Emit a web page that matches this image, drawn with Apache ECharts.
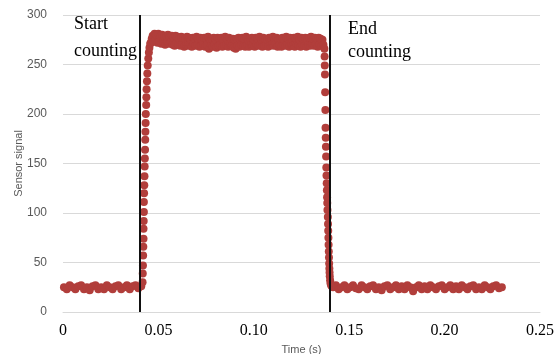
<!DOCTYPE html>
<html>
<head>
<meta charset="utf-8">
<script src="https://cdn.jsdelivr.net/npm/echarts@6/dist/echarts.min.js"></script>
<style>
  html, body { margin: 0; padding: 0; background: #fff; }
  #chart { width: 556px; height: 354px; }
</style>
</head>
<body>
<div id="chart"></div>
<script>
// [time (s), sensor signal]
const baseStart = [
  [0.0005, 25], [0.0020, 23], [0.0035, 27], [0.0050, 25], [0.0065, 23], [0.0080, 26],
  [0.0095, 27], [0.0110, 23], [0.0125, 25], [0.0140, 22], [0.0155, 26], [0.0170, 27],
  [0.0185, 23], [0.0200, 25], [0.0215, 23], [0.0230, 27], [0.0245, 25], [0.0260, 23],
  [0.0275, 26], [0.0290, 27], [0.0305, 23], [0.0320, 25], [0.0335, 27], [0.0350, 23],
  [0.0365, 26], [0.0380, 27], [0.0395, 24], [0.0410, 26]
]
const riseEdge = [
  [0.0417, 30], [0.0418, 39], [0.0419, 47], [0.0420, 57], [0.0421, 66], [0.0422, 74],
  [0.0422, 84], [0.0423, 92], [0.0424, 101], [0.0424, 111], [0.0425, 120], [0.0426, 128],
  [0.0427, 137], [0.0428, 147], [0.0429, 155], [0.0430, 164], [0.0431, 174], [0.0432, 182],
  [0.0433, 191], [0.0434, 200], [0.0436, 209], [0.0437, 217], [0.0438, 225], [0.0440, 233],
  [0.0442, 241], [0.0444, 249], [0.0447, 256], [0.0450, 262], [0.0453, 267], [0.0457, 271]
]
const plateau = [
  [0.0460, 272], [0.0465, 276], [0.0470, 279], [0.0475, 273], [0.0480, 281], [0.0485, 275], [0.0490, 280], [0.0495, 272],
  [0.0500, 281], [0.0505, 274], [0.0510, 279], [0.0515, 271], [0.0520, 280], [0.0525, 273], [0.0530, 278], [0.0535, 270],
  [0.0540, 279], [0.0545, 272], [0.0550, 280], [0.0555, 271], [0.0560, 278], [0.0565, 273], [0.0570, 279], [0.0575, 270],
  [0.0580, 277], [0.0585, 269], [0.0590, 279], [0.0595, 272], [0.0600, 278], [0.0605, 270], [0.0610, 276], [0.0615, 269],
  [0.0620, 278], [0.0625, 271], [0.0630, 277], [0.0635, 268], [0.0640, 276], [0.0645, 270], [0.0650, 278], [0.0655, 269],
  [0.0660, 277], [0.0665, 270], [0.0670, 275], [0.0675, 268], [0.0680, 277], [0.0685, 271], [0.0690, 276], [0.0695, 269],
  [0.0700, 278], [0.0705, 270], [0.0710, 276], [0.0715, 268], [0.0720, 277], [0.0725, 269], [0.0730, 275], [0.0735, 271],
  [0.0740, 277], [0.0745, 268], [0.0750, 276], [0.0755, 270], [0.0760, 278], [0.0765, 266], [0.0770, 275], [0.0775, 269],
  [0.0780, 276], [0.0785, 268], [0.0790, 277], [0.0795, 270], [0.0800, 275], [0.0805, 267], [0.0810, 277], [0.0815, 269],
  [0.0820, 276], [0.0825, 270], [0.0830, 277], [0.0835, 268], [0.0840, 275], [0.0845, 269], [0.0850, 278], [0.0855, 270],
  [0.0860, 276], [0.0865, 268], [0.0870, 277], [0.0875, 270], [0.0880, 275], [0.0885, 269], [0.0890, 276], [0.0895, 267],
  [0.0900, 275], [0.0905, 266], [0.0910, 276], [0.0915, 269], [0.0920, 277], [0.0925, 268], [0.0930, 275], [0.0935, 270],
  [0.0940, 277], [0.0945, 269], [0.0950, 276], [0.0955, 268], [0.0960, 278], [0.0965, 270], [0.0970, 275], [0.0975, 268],
  [0.0980, 276], [0.0985, 270], [0.0990, 277], [0.0995, 269], [0.1000, 275], [0.1005, 268], [0.1010, 277], [0.1015, 270],
  [0.1020, 276], [0.1025, 269], [0.1030, 278], [0.1035, 270], [0.1040, 275], [0.1045, 268], [0.1050, 277], [0.1055, 269],
  [0.1060, 276], [0.1065, 270], [0.1070, 275], [0.1075, 268], [0.1080, 277], [0.1085, 269], [0.1090, 276], [0.1095, 270],
  [0.1100, 278], [0.1105, 269], [0.1110, 276], [0.1115, 271], [0.1120, 277], [0.1125, 268], [0.1130, 275], [0.1135, 270],
  [0.1140, 276], [0.1145, 268], [0.1150, 277], [0.1155, 270], [0.1160, 275], [0.1165, 269], [0.1170, 278], [0.1175, 270],
  [0.1180, 276], [0.1185, 268], [0.1190, 277], [0.1195, 270], [0.1200, 275], [0.1205, 269], [0.1210, 277], [0.1215, 268],
  [0.1220, 276], [0.1225, 270], [0.1230, 278], [0.1235, 269], [0.1240, 275], [0.1245, 268], [0.1250, 277], [0.1255, 270],
  [0.1260, 276], [0.1265, 269], [0.1270, 277], [0.1275, 268], [0.1280, 275], [0.1285, 270], [0.1290, 277], [0.1295, 269],
  [0.1300, 278], [0.1305, 270], [0.1310, 276], [0.1315, 269], [0.1320, 277], [0.1325, 271], [0.1330, 276], [0.1335, 268],
  [0.1340, 277], [0.1345, 270], [0.1350, 276], [0.1355, 269], [0.1360, 275], [0.1365, 270], [0.1370, 266]
]
const fallEdge = [
  [0.1371, 258], [0.1372, 249], [0.1373, 240], [0.1374, 222], [0.1375, 204], [0.1376, 186],
  [0.1377, 176], [0.1378, 167], [0.1379, 157], [0.1380, 146], [0.1381, 138], [0.1382, 130],
  [0.1383, 123], [0.1384, 116], [0.1385, 110], [0.1386, 103], [0.1388, 96], [0.1389, 89],
  [0.1390, 82], [0.1391, 75], [0.1392, 68], [0.1393, 61], [0.1394, 55], [0.1395, 49],
  [0.1396, 44], [0.1397, 40], [0.1398, 36], [0.1400, 32], [0.1402, 29], [0.1405, 27],
  [0.1409, 26]
]
const baseEnd = [
  [0.1415, 25], [0.1430, 27], [0.1445, 23], [0.1460, 25], [0.1475, 27], [0.1490, 23],
  [0.1505, 25], [0.1520, 27], [0.1535, 24], [0.1550, 23], [0.1565, 27], [0.1580, 25],
  [0.1595, 23], [0.1610, 26], [0.1625, 27], [0.1640, 23], [0.1655, 25], [0.1670, 22],
  [0.1685, 26], [0.1700, 27], [0.1715, 23], [0.1730, 25], [0.1745, 27], [0.1760, 23],
  [0.1775, 26], [0.1790, 23], [0.1805, 27], [0.1820, 25], [0.1835, 21], [0.1850, 25],
  [0.1865, 27], [0.1880, 23], [0.1895, 26], [0.1910, 23], [0.1925, 27], [0.1940, 25],
  [0.1955, 23], [0.1970, 26], [0.1985, 27], [0.2000, 23], [0.2015, 25], [0.2030, 27],
  [0.2045, 23], [0.2060, 26], [0.2075, 23], [0.2090, 27], [0.2105, 25], [0.2120, 23],
  [0.2135, 26], [0.2150, 27], [0.2165, 23], [0.2180, 25], [0.2195, 23], [0.2210, 27],
  [0.2225, 25], [0.2240, 23], [0.2255, 26], [0.2270, 27], [0.2285, 24], [0.2300, 25]
]
const counterLines = [0.0404, 0.1407]
const xTicks = { min: 0, max: 0.25, interval: 0.05 }
const yTicks = { min: 0, max: 300, interval: 50 }

const points = baseStart.concat(riseEdge, plateau, fallEdge, baseEnd)

const chart = echarts.init(document.getElementById('chart'), null, { renderer: 'canvas' })

const grayText = {
  color: '#595959',
  fontFamily: 'Liberation Sans',
  fontSize: 12
}

// annotation text, one element per line
function note(text, left, top) {
  return {
    type: 'text',
    left: left,
    top: top,
    style: { text: text, font: '18px "Liberation Serif"', fill: '#000' }
  }
}

chart.setOption({
  animation: false,
  backgroundColor: '#fff',
  grid: {
    left: 63,
    right: 16,
    top: 15,
    bottom: 42,
    containLabel: false,
    outerBoundsMode: 'none'
  },
  xAxis: {
    type: 'value',
    min: xTicks.min,
    max: xTicks.max,
    interval: xTicks.interval,
    name: 'Time (s)',
    nameLocation: 'middle',
    nameGap: 32,
    nameMoveOverlap: false,
    nameTextStyle: { color: '#595959', fontFamily: 'Liberation Sans', fontSize: 11 },
    axisLine: { show: true, lineStyle: { color: '#d9d9d9', width: 1 } },
    axisTick: { show: false },
    splitLine: { show: false },
    axisLabel: {
      color: '#000',
      fontFamily: 'Liberation Serif',
      fontSize: 16,
      margin: 11,
      formatter: v => (v === 0 ? '0' : v.toFixed(2))
    }
  },
  yAxis: {
    type: 'value',
    min: yTicks.min,
    max: yTicks.max,
    interval: yTicks.interval,
    name: 'Sensor signal',
    nameLocation: 'middle',
    nameGap: 39,
    nameMoveOverlap: false,
    nameTextStyle: { color: '#595959', fontFamily: 'Liberation Sans', fontSize: 11 },
    axisLine: { show: false },
    axisTick: { show: false },
    splitLine: { lineStyle: { color: '#d9d9d9', width: 1 } },
    axisLabel: Object.assign({ margin: 16 }, grayText)
  },
  series: [
    {
      type: 'scatter',
      data: points,
      symbol: 'circle',
      symbolSize: 8,
      itemStyle: { color: '#b13e3b', opacity: 1 },
      markLine: {
        silent: true,
        symbol: 'none',
        label: { show: false },
        lineStyle: { color: '#111', width: 2, type: 'solid' },
        data: counterLines.map(x => ({ xAxis: x }))
      }
    }
  ],
  graphic: [
    note('Start', 74, 15),
    note('counting', 74, 42),
    note('End', 348, 20),
    note('counting', 348, 43)
  ]
})
</script>
</body>
</html>
